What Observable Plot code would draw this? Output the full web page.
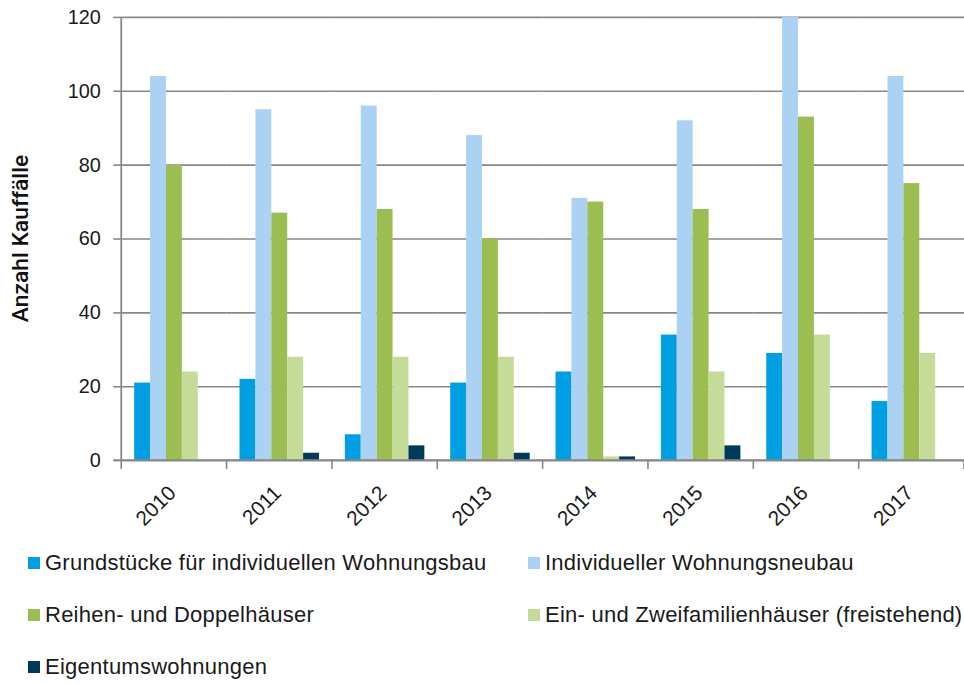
<!DOCTYPE html>
<html>
<head>
<meta charset="utf-8">
<script src="https://cdn.jsdelivr.net/npm/d3@7"></script>
<script src="https://cdn.jsdelivr.net/npm/@observablehq/plot@0.6"></script>
<style>
  html, body { margin: 0; padding: 0; background: #fff; overflow: hidden; width: 964px; height: 684px; }
  body { font-family: "Liberation Sans", Arial, sans-serif; color: #1a1a1a; }
  #chart svg { display: block; }
  #legend { display: grid; grid-template-columns: 500px 440px; margin-left: 28px; margin-top: 0px; row-gap: 0; }
  .item { display: flex; align-items: center; height: 52px; font-size: 22px; letter-spacing: 0.25px; color: #1a1a1a; }
  .sw { width: 12px; height: 12px; margin-right: 5px; flex: none; }
</style>
</head>
<body>
<div id="chart"></div>
<div id="legend"></div>
<script>
const years = ["2010", "2011", "2012", "2013", "2014", "2015", "2016", "2017"];
const seriesNames = [
  "Grundstücke für individuellen Wohnungsbau",
  "Individueller Wohnungsneubau",
  "Reihen- und Doppelhäuser",
  "Ein- und Zweifamilienhäuser (freistehend)",
  "Eigentumswohnungen"
];
const grundstuecke = [21, 22, 7, 21, 24, 34, 29, 16];
const neubau = [104, 95, 96, 88, 71, 92, 120, 104];
const reihenDoppel = [80, 67, 68, 60, 70, 68, 93, 75];
const einZwei = [24, 28, 28, 28, 1, 24, 34, 29];
const eigentum = [0, 2, 4, 2, 1, 4, 0, 0];
const colors = ["#009fe3", "#abd1f3", "#9bbd51", "#c4dc98", "#003a5a"];
const yTicks = [0, 20, 40, 60, 80, 100, 120];

const seriesValues = [grundstuecke, neubau, reihenDoppel, einZwei, eigentum];
const data = [];
years.forEach((y, i) => {
  seriesNames.forEach((s, j) => {
    data.push({year: y, series: s, value: seriesValues[j][i]});
  });
});

const gridColor = "#878787";

const chart = Plot.plot({
  width: 970,
  height: 540,
  marginLeft: 121,
  marginRight: 0,
  marginTop: 17,
  marginBottom: 77,
  style: {fontFamily: "Liberation Sans, Arial, sans-serif", fontSize: "20px", color: "#1a1a1a", background: "#fff"},
  fx: {domain: years, padding: 0, label: null, axis: null},
  x: {domain: seriesNames, paddingInner: 0, paddingOuter: 0.78, axis: null},
  y: {domain: [0, 120], range: [463, 17], label: null},
  color: {domain: seriesNames, range: colors},
  marks: [
    Plot.ruleY(yTicks, {stroke: gridColor, strokeWidth: 1.6, strokeOpacity: 1}),
    Plot.barY(data, {fx: "year", x: "series", y: "value", fill: "series"}),
    Plot.axisY(yTicks, {tickSize: 8, tickPadding: 13, stroke: gridColor, strokeWidth: 1.6, strokeOpacity: 1, fontSize: 20, fill: "#1a1a1a", label: null}),
    Plot.axisFx({anchor: "bottom", tickSize: 0, tickRotate: -45, tickPadding: 16, fontSize: 21, fill: "#1a1a1a", label: null, dx: -2, dy: 13})
  ]
});

document.getElementById("chart").appendChild(chart);

// Axis line, category boundary ticks and y label, positioned with Plot's own scales
const fx = chart.scale("fx");
const ys = chart.scale("y");
const svg = d3.select(chart);
const bw = fx.bandwidth;
const x0 = fx.apply(years[0]);
const y0 = ys.apply(0);
const yTop = ys.apply(120);
const boundaries = years.map(y => fx.apply(y)).concat([fx.apply(years[years.length - 1]) + bw]);
const g = svg.append("g");
g.append("line").attr("x1", x0).attr("x2", x0).attr("y1", yTop).attr("y2", y0)
  .attr("stroke", gridColor).attr("stroke-width", 1.8);
g.selectAll("line.bt").data(boundaries).join("line").attr("class", "bt")
  .attr("x1", d => d).attr("x2", d => d).attr("y1", y0).attr("y2", y0 + 9)
  .attr("stroke", gridColor).attr("stroke-width", 1.6);
g.append("line").attr("x1", x0 - 8).attr("x2", 970).attr("y1", y0).attr("y2", y0)
  .attr("stroke", gridColor).attr("stroke-width", 1.8);
g.append("text")
  .attr("transform", `translate(22, ${(y0 + yTop) / 2}) rotate(-90)`)
  .attr("text-anchor", "middle").attr("dominant-baseline", "middle")
  .attr("font-size", 23).attr("font-weight", 500).attr("fill", "#111")
  .attr("font-family", "Roboto, Liberation Sans, Arial, sans-serif")
  .text("Anzahl Kauffälle");

// Legend
const legend = d3.select("#legend");
seriesNames.forEach((s, i) => {
  const item = legend.append("div").attr("class", "item");
  item.append("span").attr("class", "sw").style("background", colors[i]);
  item.append("span").text(s);
});
</script>
</body>
</html>
